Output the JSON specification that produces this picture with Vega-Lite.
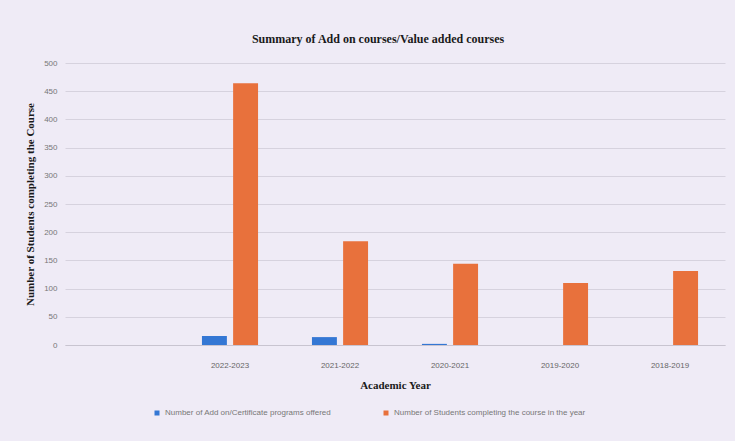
{
  "$schema": "https://vega.github.io/schema/vega-lite/v6.json",
  "width": 660,
  "height": 282,
  "autosize": {"type": "none"},
  "padding": {"left": 65, "top": 63, "right": 10, "bottom": 96},
  "background": "#efebf6",
  "title": {
    "text": "Summary of Add on courses/Value added courses",
    "font": "Liberation Serif",
    "fontSize": 12,
    "fontWeight": "bold",
    "color": "#1a1a1a",
    "anchor": "middle",
    "offset": 13,
    "dx": -17
  },
  "data": {
    "values": [
      {"year": "2022-2023", "series": "Number of Add on/Certificate programs offered", "value": 16},
      {"year": "2022-2023", "series": "Number of Students completing the course in the year", "value": 464},
      {"year": "2021-2022", "series": "Number of Add on/Certificate programs offered", "value": 14},
      {"year": "2021-2022", "series": "Number of Students completing the course in the year", "value": 184},
      {"year": "2020-2021", "series": "Number of Add on/Certificate programs offered", "value": 2},
      {"year": "2020-2021", "series": "Number of Students completing the course in the year", "value": 144},
      {"year": "2019-2020", "series": "Number of Add on/Certificate programs offered", "value": 0},
      {"year": "2019-2020", "series": "Number of Students completing the course in the year", "value": 110},
      {"year": "2018-2019", "series": "Number of Add on/Certificate programs offered", "value": 0},
      {"year": "2018-2019", "series": "Number of Students completing the course in the year", "value": 131}
    ]
  },
  "mark": {"type": "bar"},
  "encoding": {
    "x": {
      "field": "year",
      "type": "nominal",
      "scale": {"domain": [" ", "2022-2023", "2021-2022", "2020-2021", "2019-2020", "2018-2019"], "paddingInner": 0.49, "paddingOuter": 0.245},
      "axis": {
        "title": "Academic Year",
        "titleFont": "Liberation Serif",
        "titleFontSize": 11,
        "titleFontWeight": "bold",
        "titleColor": "#1a1a1a",
        "titlePadding": 10,
        "labelAngle": 0,
        "labelFont": "Liberation Sans",
        "labelFontSize": 8,
        "labelColor": "#666666",
        "labelPadding": 16,
        "ticks": false,
        "domainColor": "#c8c4d0",
        "grid": false
      }
    },
    "xOffset": {"field": "series", "type": "nominal", "scale": {"paddingInner": 0.2}},
    "y": {
      "field": "value",
      "type": "quantitative",
      "scale": {"domain": [0, 500]},
      "axis": {
        "title": "Number of Students completing the Course",
        "titleFont": "Liberation Serif",
        "titleFontSize": 11,
        "titleFontWeight": "bold",
        "titleColor": "#1a1a1a",
        "titlePadding": 8,
        "values": [0, 50, 100, 150, 200, 250, 300, 350, 400, 450, 500],
        "labelFont": "Liberation Sans",
        "labelFontSize": 8,
        "labelColor": "#777777",
        "labelPadding": 8,
        "ticks": false,
        "domain": false,
        "gridColor": "#d6d2de"
      }
    },
    "color": {
      "field": "series",
      "type": "nominal",
      "scale": {
        "domain": ["Number of Add on/Certificate programs offered", "Number of Students completing the course in the year"],
        "range": ["#3477d4", "#e8713c"]
      },
      "legend": {
        "orient": "none",
        "legendX": 88,
        "legendY": 346,
        "direction": "horizontal",
        "title": null,
        "symbolType": "square",
        "symbolSize": 25,
        "symbolStrokeWidth": 0,
        "labelFont": "Liberation Sans",
        "labelFontSize": 8,
        "labelColor": "#777777",
        "labelLimit": 300,
        "columnPadding": 50
      }
    }
  },
  "config": {"view": {"stroke": null}}
}
